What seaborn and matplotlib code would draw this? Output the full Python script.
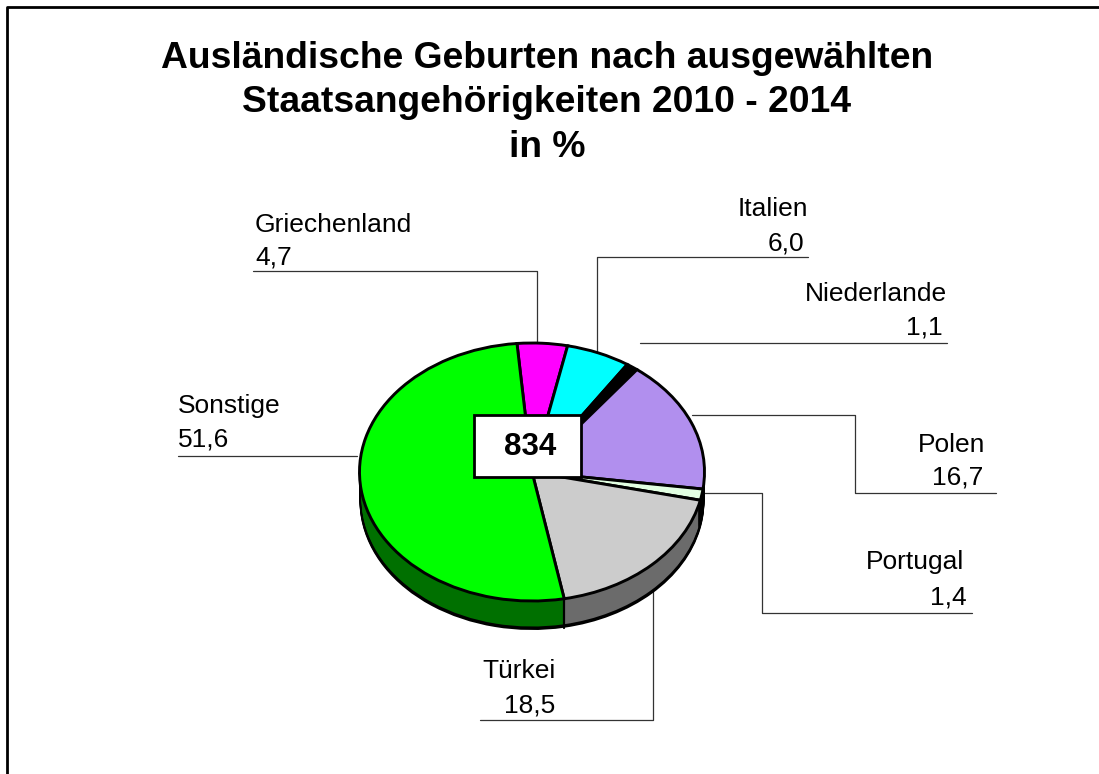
import matplotlib
matplotlib.use("Agg")
import matplotlib.pyplot as plt
import numpy as np
import seaborn as sns

labels = ["Griechenland", "Italien", "Niederlande", "Polen", "Portugal", "Türkei", "Sonstige"]
values = [4.7, 6.0, 1.1, 16.7, 1.4, 18.5, 51.6]
value_labels = ["4,7", "6,0", "1,1", "16,7", "1,4", "18,5", "51,6"]
top_colors = ["#ff00ff", "#00ffff", "#000000", "#b18fee", "#e2ffe2", "#cccccc", "#00ff00"]
side_colors = ["#800080", "#008080", "#000000", "#000000", "#000000", "#6b6b6b", "#007000"]
title = "Ausländische Geburten nach ausgewählten\nStaatsangehörigkeiten 2010 - 2014\nin %"
total = "834"

W, H = 1099, 774
sns.set_theme(style="white")
plt.rcParams["font.family"] = ["Liberation Sans", "DejaVu Sans"]

fig = plt.figure(figsize=(W / 100, H / 100), dpi=100, facecolor="white")

# background layer in pixel coordinates: frame, leader lines
bg = fig.add_axes([0, 0, 1, 1])
bg.set_xlim(0, W)
bg.set_ylim(H, 0)
bg.axis("off")
bg.plot([7, 7, W], [H, 7, 7], color="black", lw=2)

leaders = [
    ([253, 537, 537], [271, 271, 348]),
    ([808, 597, 597], [257, 257, 352]),
    ([947, 640], [343, 343]),
    ([692, 855, 855, 996], [415, 415, 493, 493]),
    ([703, 762, 762, 972], [493, 493, 613, 613]),
    ([653, 653, 480], [582, 720, 720]),
    ([178, 357], [456, 456]),
]
for xs, ys in leaders:
    bg.plot(xs, ys, color="#333333", lw=0.9)

# pie, squashed into an ellipse by the axes shape
cx, cy, rx, ry, depth = 532, 472, 172.5, 129, 29
span = 1.3
pie_ax = fig.add_axes([(cx - rx * span) / W, 1 - (cy + ry * span) / H,
                       2 * rx * span / W, 2 * ry * span / H])
pie_ax.patch.set_alpha(0)
start = 95
d = depth / ry

for off in np.linspace(d, 0, 30):
    pie_ax.pie(values, colors=["black"] * 7, startangle=start, counterclock=False,
               center=(0, -off), wedgeprops={"edgecolor": "none"})
for off in np.linspace(d - 0.015, 0, 30):
    pie_ax.pie(values, colors=side_colors, startangle=start, counterclock=False,
               center=(0, -off), radius=0.988, wedgeprops={"edgecolor": "none"})

wedges, _ = pie_ax.pie(values, colors=top_colors, startangle=start, counterclock=False,
                       wedgeprops={"edgecolor": "black", "linewidth": 2.1})
for w in wedges:
    a = np.deg2rad(w.theta1)
    if np.sin(a) < -0.5:
        pie_ax.plot([np.cos(a)] * 2, [np.sin(a), np.sin(a) - d], color="black", lw=1.6)

pie_ax.set_aspect("auto")
pie_ax.set_xlim(-span, span)
pie_ax.set_ylim(-span, span)

# top layer: title, labels, centre box
fg = fig.add_axes([0, 0, 1, 1])
fg.set_xlim(0, W)
fg.set_ylim(H, 0)
fg.axis("off")
fg.patch.set_alpha(0)

fg.text(547, 103, title, ha="center", va="center", fontsize=26.8, fontweight="bold",
        linespacing=1.36, color="black")

name_pos = [(255, 225, "left"), (808, 209, "right"), (947, 294, "right"), (985, 445, "right"),
            (964, 562, "right"), (482, 671, "left"), (178, 406, "left")]
value_pos = [(255, 258, "left"), (804, 243, "right"), (943, 327, "right"), (983, 478, "right"),
             (967, 597, "right"), (555, 705, "right"), (178, 439, "left")]
for name, val, (nx, ny, nha), (vx, vy, vha) in zip(labels, value_labels, name_pos, value_pos):
    fg.text(nx, ny, name, ha=nha, va="center", fontsize=19, color="black")
    fg.text(vx, vy, val, ha=vha, va="center", fontsize=19, color="black")

fg.add_patch(plt.Rectangle((474, 415), 107, 62, facecolor="white", edgecolor="black", lw=2))
fg.text(530, 447, total, ha="center", va="center", fontsize=22.5, fontweight="bold", color="black")

fig.savefig("out.png", dpi=100)
